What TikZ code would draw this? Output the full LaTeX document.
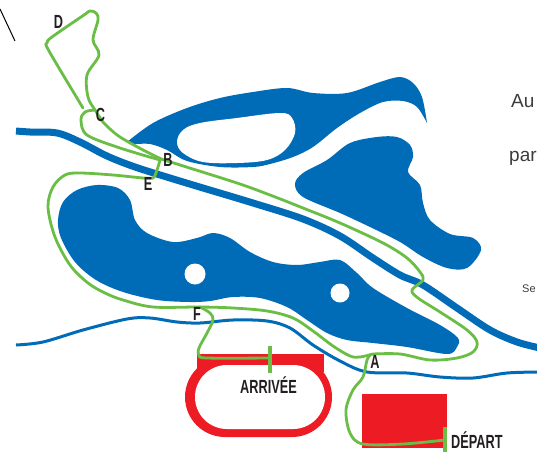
\documentclass[tikz,border=0pt]{standalone}
\usepackage{fontspec}
\setmainfont{Liberation Sans}
\newfontfamily\narrowbold[FakeStretch=0.67]{Liberation Sans Bold}
\definecolor{lakeblue}{RGB}{0,107,182}
\definecolor{routegreen}{RGB}{106,189,69}
\definecolor{trackred}{RGB}{237,28,36}
\definecolor{labelink}{RGB}{35,31,32}
\definecolor{textgray}{RGB}{60,60,60}
\definecolor{stroke}{RGB}{70,70,120}
\tikzset{
  lake/.style={fill=lakeblue,draw=none},
  rivermain/.style={draw=lakeblue,line width=7pt},
  riverthin/.style={draw=lakeblue,line width=3pt},
  route/.style={draw=routegreen,line width=2.8pt,line cap=round,line join=round},
  tickmark/.style={draw=routegreen,line width=3.2pt},
  smoothline/.style={smooth,tension=.55},
  marklabel/.style={font=\narrowbold\fontsize{19}{19}\selectfont,text=labelink,inner sep=0pt},
  sidetext/.style={text=textgray,inner sep=0pt,anchor=base west}
}
\begin{document}
\begin{tikzpicture}[x=1pt,y=-1pt]
\useasboundingbox (0,0) rectangle (537,452);
% stray stroke
\coordinate (s1) at (0,9); \coordinate (s2) at (15,41);
\draw[stroke,line width=1pt] (s1) -- (s2);
% red
\fill[trackred,rounded corners=40pt] (185,357) rectangle (332,437);
\fill[trackred] (197,354) rectangle (324,372);
\fill[white,rounded corners=32pt] (195,365) rectangle (325,429);
\fill[trackred] (362,394) rectangle (447,448);
% rivers
\draw[rivermain] plot[smoothline] coordinates {(16,131) (30,132) (57,133) (80,142) (107,156) (135,167) (170,178) (203,188) (253,203) (303,219) (340,236) (373,258) (400,275) (423,285) (457,308) (490,330) (517,342) (540,348)};
\draw[riverthin] plot[smoothline] coordinates {(16,345) (43,342) (83,330) (127,319) (150,318) (177,322) (200,323) (233,320) (267,321) (290,328) (313,345) (340,361) (367,372) (407,373) (440,377) (473,378) (507,373) (540,372)};
% upper lake
\fill[lake] plot[smoothline] coordinates {(127,142) (153,123) (187,108) (220,98) (253,92) (287,88) (313,93) (347,93) (380,82) (400,77) (413,83) (422,97) (427,123)}
  -- plot[smoothline] coordinates {(427,123) (417,107) (403,101) (383,102) (360,113) (337,128) (313,147) (293,157) (270,164) (253,167) (220,167) (187,161) (167,150) (150,144) (133,144) (127,142)} -- cycle;
\fill[white] plot[smooth cycle,tension=.6] coordinates {(177,142) (183,130) (200,123) (237,118) (280,113) (292,118) (295,133) (285,150) (267,160) (237,163) (203,162) (183,153)};
% right lake
\fill[lake] plot[smooth cycle,tension=.55] coordinates {(295,184) (303,173) (327,160) (350,143) (377,137) (397,137) (410,145) (413,157) (408,172) (420,185) (423,203) (430,220) (450,234) (473,238) (481,250) (467,268) (447,268) (423,257) (400,242) (370,227) (340,213) (303,197)};
% big lake
\fill[lake] plot[smooth cycle,tension=.55] coordinates {(58,220) (63,202) (77,190) (97,185) (118,188) (130,200) (135,220) (147,233) (173,242) (197,238) (213,233) (230,238) (250,252) (273,262) (297,265) (320,262) (340,260) (357,273) (373,288) (407,308) (440,325) (458,338) (457,347) (447,354) (407,347) (373,343) (347,340) (327,333) (307,320) (287,307) (260,298) (233,297) (210,301) (190,302) (157,300) (123,292) (96,280) (75,262) (61,238)};
\fill[white] (195,274) circle (10.5pt);
\fill[white] (340,293) circle (9.5pt);
% course
\draw[route] plot[smoothline] coordinates {(445,440) (403,444) (363,444) (350,433) (346,410) (353,390) (363,377) (367,360) (371,354)};
\draw[route] plot[smoothline] coordinates {(373,354) (360,357) (350,356) (333,346) (313,331) (293,318) (267,311) (233,308) (200,307) (153,307) (123,300) (105,293) (88,283) (70,265) (55,237) (48,207) (53,187) (65,175) (80,173) (113,175) (143,178) (153,178) (157,170) (160,160)};
\draw[route] plot[smoothline] coordinates {(160,160) (120,148) (87,135) (81,120) (85,112) (95,110)};
\draw[route] plot[smoothline] coordinates {(103,122) (120,137) (157,157) (177,164) (237,183) (270,195) (303,208) (340,223) (383,243) (407,258) (420,272) (423,280) (412,290) (418,298) (440,312) (467,330) (477,342) (473,352) (457,358) (430,360) (400,354) (373,354)};
\draw[route] plot[smoothline] coordinates {(103,122) (95,110) (88,97) (87,75) (99,55) (93,40) (98,20) (96,13) (90,11) (84,15) (52,37) (47,43) (49,51) (83,108)};
\draw[route] plot[smoothline] coordinates {(200,307) (210,313) (213,320) (207,333) (199,348) (199,355) (207,358) (269,358)};
\draw[tickmark] (270,346) -- (270,373);
\draw[tickmark] (445,427) -- (445,452);
% labels
\node[marklabel] (lD) at (58.5,21.5) {D};
\node[marklabel] (lC) at (100.5,115) {C};
\node[marklabel] (lB) at (168,160) {B};
\node[marklabel] (lE) at (148,184) {E};
\node[marklabel] (lF) at (197,313.5) {F};
\node[marklabel] (lA) at (375,362) {A};
\node[marklabel,anchor=base west] (lArr) at (240,393) {ARRIVÉE};
\node[marklabel,anchor=base west] (lDep) at (451,448) {DÉPART};
\node[sidetext,font=\fontsize{19}{19}\selectfont] (t1) at (511,107) {Au};
\node[sidetext,font=\fontsize{19}{19}\selectfont] (t2) at (509,161) {par};
\node[sidetext,font=\fontsize{11}{11}\selectfont] (t3) at (522,292) {Se};
\end{tikzpicture}
\end{document}
